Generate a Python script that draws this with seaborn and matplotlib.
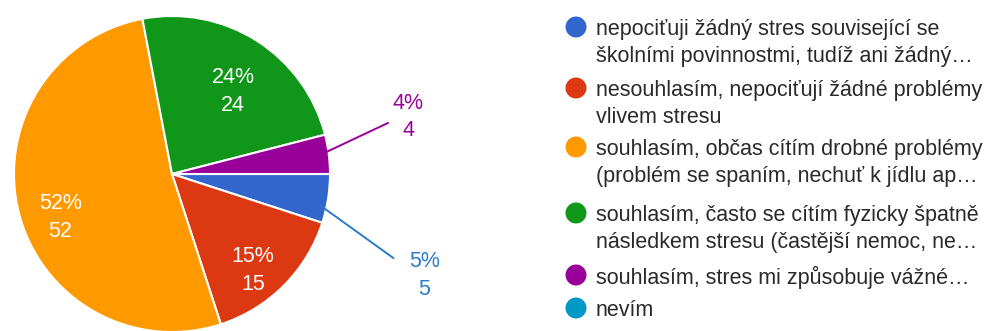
import numpy as np
import matplotlib
matplotlib.use("Agg")
import matplotlib.pyplot as plt
import seaborn as sns

# ---- data ----
categories = [
    "nepociťuji žádný stres související se\nškolními povinnostmi, tudíž ani žádný…",
    "nesouhlasím, nepociťují žádné problémy\nvlivem stresu",
    "souhlasím, občas cítím drobné problémy\n(problém se spaním, nechuť k jídlu ap…",
    "souhlasím, často se cítím fyzicky špatně\nnásledkem stresu (častější nemoc, ne…",
    "souhlasím, stres mi způsobuje vážné…",
    "nevím",
]
counts = [5, 15, 52, 24, 4, 0]
colors = ["#3366cc", "#dc3912", "#ff9900", "#109618", "#990099", "#0099c6"]
label_colors = ["#2b7bca", "white", "white", "white", "#990099", "#0099c6"]

sns.set_theme(style="white")
plt.rcParams["font.family"] = ["Liberation Sans", "DejaVu Sans"]

W, H = 984, 331
FS = 15.5
fig = plt.figure(figsize=(W / 100, H / 100), dpi=100)

# pie axes (pixel based placement)
cx, cy, R = 172, 174, 158
ax = fig.add_axes([(cx - R) / W, (H - cy - R) / H, 2 * R / W, 2 * R / H])
ax.axis("off")

vals = np.array(counts, dtype=float)
nz = vals > 0
wedges, _ = ax.pie(vals[nz], colors=[c for c, k in zip(colors, nz) if k],
                   startangle=0, counterclock=False, radius=1,
                   wedgeprops=dict(edgecolor="white", linewidth=1.5))
ax.set_xlim(-1, 1)
ax.set_ylim(-1, 1)
ax.set_aspect("equal")

total = vals.sum()
pct = [int(round(v / total * 100)) for v in vals[nz]]
idx = [i for i in range(len(counts)) if nz[i]]

# inside label placement (radius fraction, angle offset in degrees)
inside = {1: (0.80, -5), 2: (0.76, 7), 3: (0.65, -4)}
# outside label placement: (line start r, line end (r, ang), text (r, ang))
outside = {0: ((0.96, -12), (1.50, -20.8), (1.72, -21.9)),
           4: ((0.98, 8), (1.405, 13.3), (1.537, 13.6))}

for w, p, i in zip(wedges, pct, idx):
    mid = (w.theta1 + w.theta2) / 2
    txt = f"{p}%\n{counts[i]}"
    if i in inside:
        r, off = inside[i]
        a = np.deg2rad(mid + off)
        ax.text(r * np.cos(a), r * np.sin(a), txt, ha="center", va="center",
                color=label_colors[i], fontsize=FS, linespacing=1.42)
    elif i in outside:
        (r0, a0), (r1, a1), (r2, a2) = outside[i]
        a0, a1, a2 = np.deg2rad([a0, a1, a2])
        ax.plot([r0 * np.cos(a0), r1 * np.cos(a1)], [r0 * np.sin(a0), r1 * np.sin(a1)],
                color=label_colors[i], lw=1.4, clip_on=False)
        ax.text(r2 * np.cos(a2), r2 * np.sin(a2), txt, ha="center", va="center",
                color=label_colors[i], fontsize=FS, linespacing=1.42)

# legend (manual, pixel coordinates)
lax = fig.add_axes([0, 0, 1, 1])
lax.set_xlim(0, W)
lax.set_ylim(H, 0)
lax.axis("off")
first_line_y = [27, 88, 147, 213, 275, 308]
line_gap = 27
for lab, col, y in zip(categories, colors, first_line_y):
    lax.scatter([576], [y], s=228, color=col, edgecolor="none")
    for k, line in enumerate(lab.split("\n")):
        lax.text(596, y + k * line_gap, line, ha="left", va="center_baseline",
                 fontsize=FS, color="#2a2a2a")

fig.savefig("out.png", dpi=100, facecolor="white")
